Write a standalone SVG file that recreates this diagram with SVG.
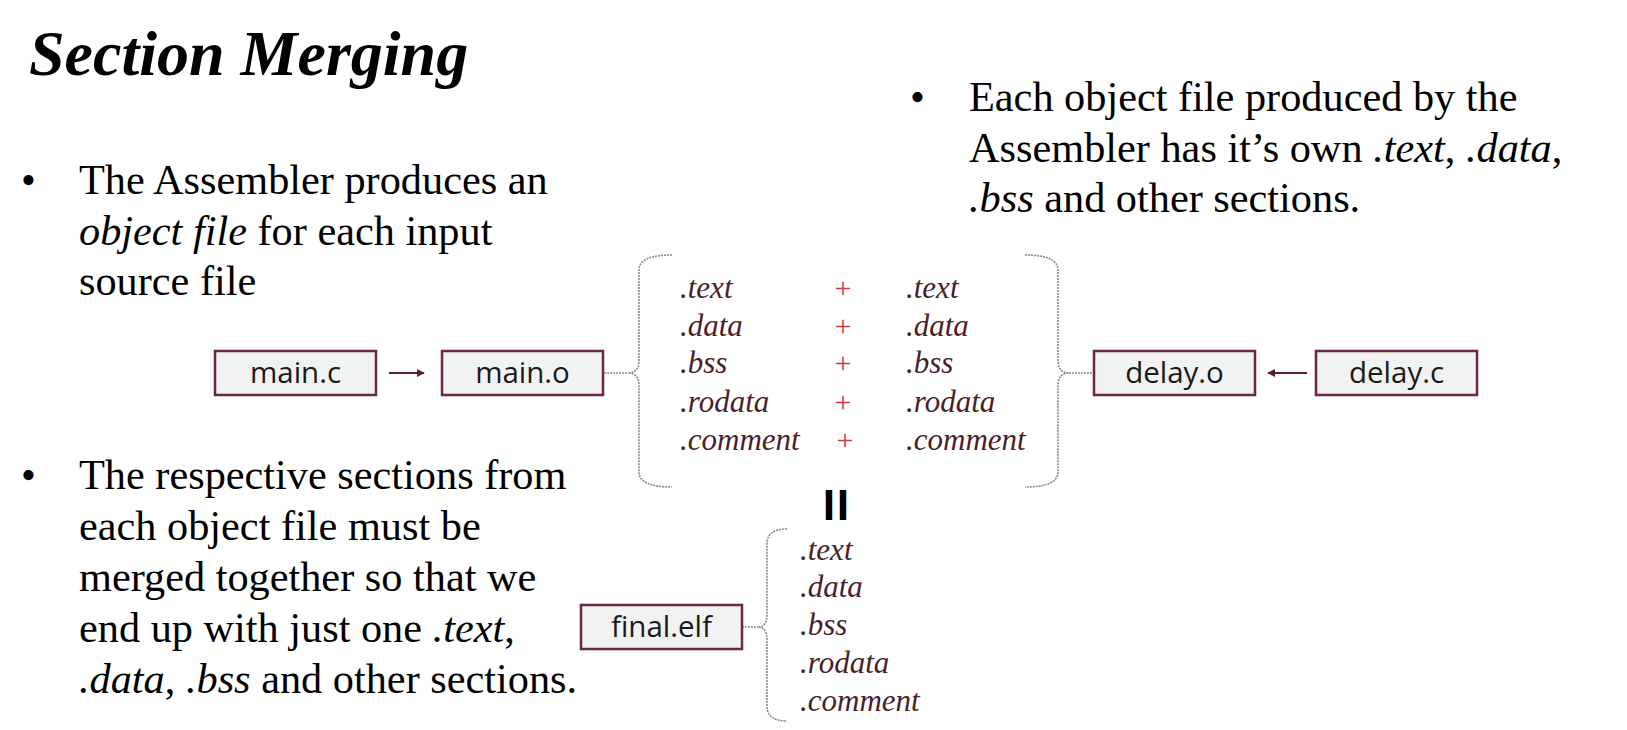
<svg xmlns="http://www.w3.org/2000/svg" width="1627" height="730" viewBox="0 0 1627 730">
<defs>
<style>
.title{font-family:"Liberation Serif",serif;font-weight:bold;font-style:italic;font-size:64px;fill:#000}
.body{font-family:"Liberation Serif",serif;font-size:42.3px;fill:#000}
.it{font-style:italic}
.box{fill:#f2f2f2;stroke:#6a2a3a;stroke-width:2.5}
.lbl{font-family:"Open Sans","Noto Sans",sans-serif;font-size:29.5px;fill:#1a1a1a;text-anchor:middle}
.sec{font-family:"Liberation Serif",serif;font-style:italic;font-size:31px;fill:#4a1e2b}
.plus{font-family:"Liberation Serif",serif;font-size:30px;fill:#d03a48;text-anchor:middle}
.brace{fill:none;stroke:#8a8a8a;stroke-width:1.6;stroke-dasharray:2 1}
.arr{stroke:#5a2030;stroke-width:2;fill:none}
.eq{font-family:"Open Sans","Noto Sans",sans-serif;font-weight:bold;font-size:42px;fill:#000;text-anchor:middle}
</style>
<marker id="ah" viewBox="0 0 10 10" refX="9" refY="5" markerWidth="4" markerHeight="4" orient="auto">
<path d="M0,0 L10,5 L0,10 z" fill="#5a2030"/>
</marker>
</defs>
<rect width="1627" height="730" fill="#ffffff"/>

<text class="title" x="29" y="75">Section Merging</text>

<g id="bullet1">
<text class="body" x="21" y="194">•</text>
<text class="body" x="79" y="194">The Assembler produces an</text>
<text class="body" x="79" y="245"><tspan class="it">object file</tspan> for each input</text>
<text class="body" x="79" y="295">source file</text>
</g>

<g id="bullet2">
<text class="body" x="910" y="111">•</text>
<text class="body" x="969" y="111">Each object file produced by the</text>
<text class="body" x="969" y="162">Assembler has it’s own <tspan class="it">.text</tspan>, <tspan class="it">.data</tspan>,</text>
<text class="body" x="969" y="212"><tspan class="it">.bss</tspan> and other sections.</text>
</g>

<g id="bullet3">
<text class="body" x="21" y="489">•</text>
<text class="body" x="79" y="489">The respective sections from</text>
<text class="body" x="79" y="540">each object file must be</text>
<text class="body" x="79" y="591">merged together so that we</text>
<text class="body" x="79" y="642">end up with just one <tspan class="it">.text</tspan>,</text>
<text class="body" x="79" y="693"><tspan class="it">.data</tspan>, <tspan class="it">.bss</tspan> and other sections.</text>
</g>

<g id="connectors">
<line class="arr" x1="389" y1="373" x2="424" y2="373" marker-end="url(#ah)"/>
<line class="arr" x1="1307" y1="373" x2="1268" y2="373" marker-end="url(#ah)"/>
<path class="brace" d="M604,373 L628,373"/>
<path class="brace" d="M672,255 Q639,255 639,270 L639,360 Q639,373 628,373 Q639,373 639,386 L639,472 Q639,487 672,487"/>
<path class="brace" d="M1069,373 L1094,373"/>
<path class="brace" d="M1025,255 Q1058,255 1058,270 L1058,360 Q1058,373 1069,373 Q1058,373 1058,386 L1058,472 Q1058,487 1025,487"/>
<path class="brace" d="M742,627 L758,627"/>
<path class="brace" d="M787,529 Q767,529 767,544 L767,614 Q767,627 758,627 Q767,627 767,640 L767,706 Q767,721 787,721"/>
</g>

<g id="main_c">
<rect class="box" x="215" y="351" width="161" height="44"/>
<text class="lbl" x="295.5" y="383">main.c</text>
</g>
<g id="main_o">
<rect class="box" x="442" y="351" width="161" height="44"/>
<text class="lbl" x="522.5" y="383">main.o</text>
</g>
<g id="delay_o">
<rect class="box" x="1094" y="351" width="161" height="44"/>
<text class="lbl" x="1174.5" y="383">delay.o</text>
</g>
<g id="delay_c">
<rect class="box" x="1316" y="351" width="161" height="44"/>
<text class="lbl" x="1396.5" y="383">delay.c</text>
</g>
<g id="final_elf">
<rect class="box" x="581" y="605" width="161" height="44"/>
<text class="lbl" x="661.5" y="637">final.elf</text>
</g>

<g id="sections">
<text class="sec" x="680" y="298">.text</text>
<text class="sec" x="680" y="336">.data</text>
<text class="sec" x="680" y="373">.bss</text>
<text class="sec" x="680" y="412">.rodata</text>
<text class="sec" x="680" y="450">.comment</text>
<text class="plus" x="843" y="298">+</text>
<text class="plus" x="843" y="336">+</text>
<text class="plus" x="843" y="373">+</text>
<text class="plus" x="843" y="412">+</text>
<text class="plus" x="845" y="450">+</text>
<text class="sec" x="906" y="298">.text</text>
<text class="sec" x="906" y="336">.data</text>
<text class="sec" x="906" y="373">.bss</text>
<text class="sec" x="906" y="412">.rodata</text>
<text class="sec" x="906" y="450">.comment</text>
</g>

<text class="eq" x="836" y="520">II</text>

<g id="final_sections">
<text class="sec" x="800" y="560">.text</text>
<text class="sec" x="800" y="597">.data</text>
<text class="sec" x="800" y="635">.bss</text>
<text class="sec" x="800" y="673">.rodata</text>
<text class="sec" x="800" y="711">.comment</text>
</g>
</svg>
